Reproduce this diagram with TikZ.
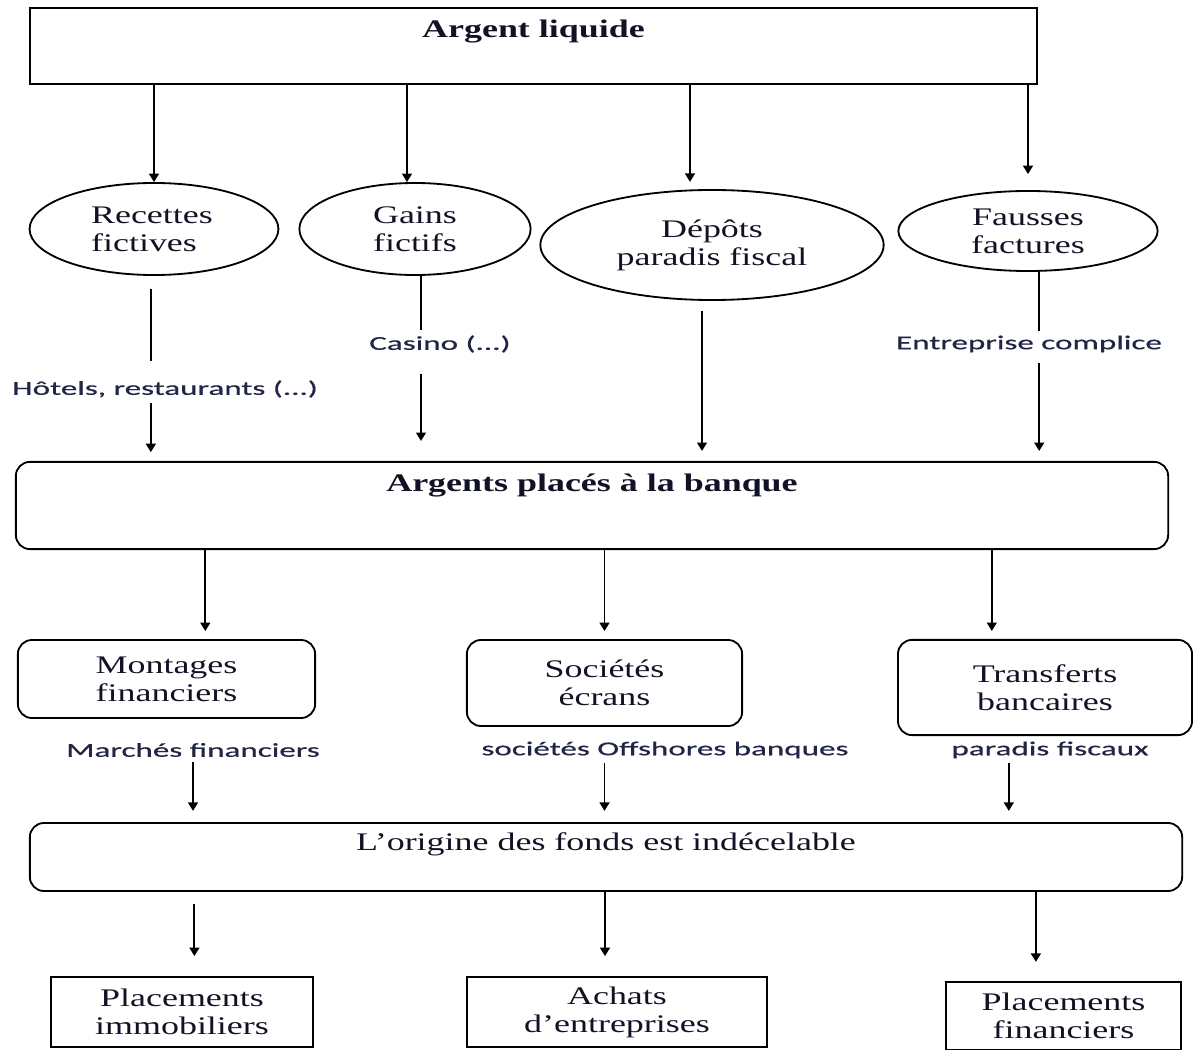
\documentclass[tikz,border=0pt]{standalone}
\usepackage{fontspec}
\setmainfont{Liberation Serif}[FakeStretch=1.42]
\newfontfamily\etiqfont{Carlito}[FakeStretch=1.68, FakeBold=0.6]
\usetikzlibrary{shapes.geometric,arrows.meta}
\definecolor{encre}{RGB}{18,18,38}
\definecolor{bleunuit}{RGB}{34,38,70}

\begin{document}
\begin{tikzpicture}
  [x=0.025cm, y=-0.025cm,
    every node/.style={text=encre, font=\fontsize{18}{20}\selectfont, align=center},
    boite/.style={draw, line width=1.3pt, inner sep=0pt},
    arrondi/.style={boite, rounded corners=10pt},
    bulle/.style={draw, ellipse, line width=1.3pt, inner sep=0pt},
    titre/.style={font=\fontsize{18}{20}\selectfont\bfseries},
    etiq/.style={text=bleunuit, font=\fontsize{14}{16}\selectfont\etiqfont},
    fl/.style={line width=1.3pt, -{Triangle[width=7pt,length=6pt]}},
    trait/.style={line width=1.3pt},
]
  \useasboundingbox (0,0) rectangle (1196,1050);

  % argent liquide
  \node[boite, minimum width=25.18cm, minimum height=1.9cm,
    label={[titre, anchor=north, yshift=-0.2cm]north:Argent liquide}] (caisse) at (533.5,46) {};

  % les quatre bulles
  \node[bulle, minimum width=6.22cm, minimum height=2.3cm, align=left] (rec) at (154,229) {Recettes\\fictives\hspace*{0.5cm}};
  \node[bulle, minimum width=5.78cm, minimum height=2.3cm] (gains) at (415,229) {Gains\\fictifs};
  \node[bulle, minimum width=8.58cm, minimum height=2.75cm] (dep) at (712,245) {Dépôts\\paradis fiscal};
  \node[bulle, minimum width=6.48cm, minimum height=2cm] (faus) at (1028,231) {Fausses\\factures};

  \node[etiq] (hotel) at (165,389) {Hôtels, restaurants (...)};
  \node[etiq] (casino) at (440,344) {Casino (...)};
  \node[etiq] (compl) at (1029,344) {Entreprise complice};

  % la banque
  \node[arrondi, minimum width=28.8cm, minimum height=2.18cm,
    label={[titre, anchor=north, yshift=-0.2cm]north:Argents placés à la banque}] (banque) at (592,505.5) {};

  \node[arrondi, minimum width=7.43cm, minimum height=1.95cm] (mont) at (166.5,679) {Montages\\financiers};
  \node[arrondi, minimum width=6.88cm, minimum height=2.15cm] (soc) at (604.5,683) {Sociétés\\écrans};
  \node[arrondi, minimum width=7.35cm, minimum height=2.38cm] (trans) at (1045,687.5) {Transferts\\bancaires};

  \node[etiq] (marche) at (193,750) {Marchés financiers};
  \node[etiq] (offsh) at (665,750) {sociétés Offshores banques};
  \node[etiq] (parad) at (1050,750) {paradis fiscaux};

  \node[arrondi, minimum width=28.8cm, minimum height=1.7cm,
    label={[anchor=north, yshift=-0.15cm]north:L’origine des fonds est indécelable}] (origine) at (606,857) {};

  % placements
  \node[boite, minimum width=6.55cm, minimum height=1.75cm] (immo) at (182,1012) {Placements\\immobiliers};
  \node[boite, minimum width=7.5cm, minimum height=1.75cm] (achat) at (617,1012) {Achats\\d’entreprises};
  \node[boite, minimum width=5.88cm, minimum height=1.7cm] (plafin) at (1063.5,1016) {Placements\\financiers};

  % fleches du haut
  \draw[fl] (caisse.south -| rec.north) -- (rec.north);
  \draw[fl] ([xshift=-0.2cm]caisse.south -| gains.north) -- ([xshift=-0.2cm]gains.north);
  \draw[fl] ([xshift=-0.55cm]caisse.south -| dep.north) -- ([xshift=-0.55cm, yshift=0.18cm]dep.north);
  \draw[fl] (caisse.south -| faus.north) -- ([yshift=0.4cm]faus.north);

  \draw[trait, shorten <=0.33cm, shorten >=0.35cm] ([xshift=-0.08cm]rec.south) -- ([xshift=-0.08cm]rec.south |- hotel.north);
  \draw[fl, shorten >=0.22cm] ([xshift=-0.08cm]rec.south |- hotel.south) -- ([xshift=-0.08cm]rec.south |- banque.north);
  \draw[trait] ([xshift=0.15cm]gains.south) -- ([xshift=0.15cm]gains.south |- casino.north);
  \draw[fl, shorten <=0.4cm, shorten >=0.5cm] ([xshift=0.15cm]gains.south |- casino.south) -- ([xshift=0.15cm]gains.south |- banque.north);
  \draw[fl, shorten <=0.25cm, shorten >=0.25cm] ([xshift=-0.25cm]dep.south) -- ([xshift=-0.25cm]dep.south |- banque.north);
  \draw[trait] ([xshift=0.28cm]faus.south) -- ([xshift=0.28cm]faus.south |- compl.north);
  \draw[fl, shorten <=0.15cm, shorten >=0.25cm] ([xshift=0.28cm]faus.south |- compl.south) -- ([xshift=0.28cm]faus.south |- banque.north);

  % fleches de la banque
  \draw[fl, shorten >=0.2cm] ([xshift=0.97cm]banque.south -| mont.north) -- ([xshift=0.97cm]mont.north);
  \draw[fl, shorten >=0.2cm] (banque.south -| soc.north) -- (soc.north);
  \draw[fl, shorten >=0.2cm] ([xshift=-1.33cm]banque.south -| trans.north) -- ([xshift=-1.33cm]trans.north);

  \draw[fl, shorten >=0.28cm] (marche.south) -- (marche.south |- origine.north);
  \draw[fl, shorten >=0.28cm] (offsh.south -| soc.south) -- (soc.south |- origine.north);
  \draw[fl, shorten >=0.28cm] ([xshift=-1.03cm]parad.south) -- ([xshift=-1.03cm]parad.south |- origine.north);

  % vers les placements
  \draw[fl, shorten <=0.3cm, shorten >=0.5cm] ([xshift=0.31cm]origine.south -| immo.north) -- ([xshift=0.31cm]immo.north);
  \draw[fl, shorten >=0.5cm] ([xshift=-0.3cm]origine.south -| achat.north) -- ([xshift=-0.3cm]achat.north);
  \draw[fl, shorten >=0.48cm] ([xshift=-0.69cm]origine.south -| plafin.north) -- ([xshift=-0.69cm]plafin.north);
\end{tikzpicture}
\end{document}
